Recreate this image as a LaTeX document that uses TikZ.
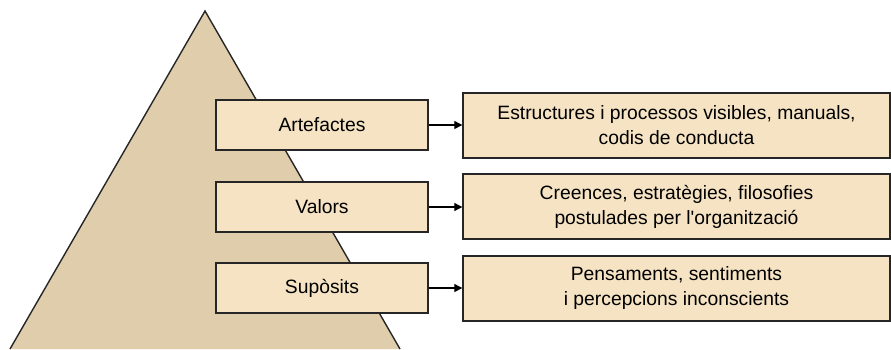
\documentclass[tikz,border=0pt]{standalone}
\usepackage{fontspec}
\setmainfont{Liberation Sans}
\usetikzlibrary{arrows.meta}
\definecolor{pyr}{HTML}{DFCDAC}
\definecolor{boxfill}{HTML}{F5E3C3}
\begin{document}
\begin{tikzpicture}[x=1pt,y=-1pt,
  level/.style={draw=black!85, line width=1.4pt, fill=boxfill, minimum width=212pt, minimum height=50pt, inner sep=0pt, font=\fontsize{19.3}{23}\selectfont},
  desc/.style={draw=black!85, line width=1.4pt, fill=boxfill, minimum width=427pt, minimum height=65pt, inner sep=0pt, align=center, font=\fontsize{19.3}{25}\selectfont},
  link/.style={line width=1.2pt, -{Triangle[length=8pt,width=8pt]}}]
\useasboundingbox (0,0) rectangle (891,349);
% pyramid
\draw[fill=pyr, line width=1.4pt, draw=black!85] (10,349) -- (205,11) -- (400,349);
% levels
\node[level] (art) at (322,125) {Artefactes};
\node[level] (val) at (322,207) {Valors};
\node[level] (sup) at (322,288) {Supòsits};
% descriptions
\node[desc] (dart) at (676.5,125.5) {Estructures i processos visibles, manuals,\\codis de conducta};
\node[desc] (dval) at (676.5,206.5) {Creences, estratègies, filosofies\\postulades per l\textquotesingle organització};
\node[desc] (dsup) at (676.5,288.5) {Pensaments, sentiments\\i percepcions inconscients};
\draw[link] (art) -- (dart.west |- art);
\draw[link] (val) -- (dval.west |- val);
\draw[link] (sup) -- (dsup.west |- sup);
\end{tikzpicture}
\end{document}
